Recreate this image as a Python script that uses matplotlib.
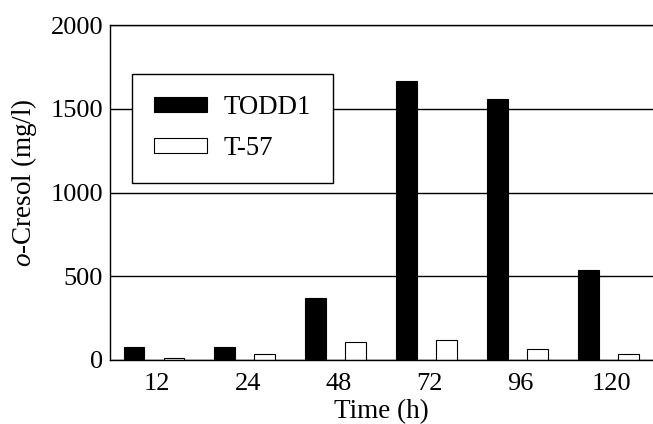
import numpy as np
import matplotlib.pyplot as plt

# o-Cresol concentration over time for two strains
times = ['12', '24', '48', '72', '96', '120']
todd1 = [75, 75, 368, 1665, 1560, 537]
t57 = [10, 34, 106, 118, 64, 34]

plt.rcParams['font.family'] = 'Liberation Serif'
plt.rcParams['mathtext.fontset'] = 'custom'
plt.rcParams['mathtext.it'] = 'Liberation Serif:italic'
plt.rcParams['mathtext.rm'] = 'Liberation Serif'

fig = plt.figure(figsize=(6.53, 4.24), dpi=100)
ax = fig.add_axes([110 / 653, 64 / 424, 543 / 653, 335 / 424])

x = np.arange(len(times))
w = 0.23
off = 0.22

ax.set_axisbelow(True)
ax.yaxis.grid(True, color='black', linewidth=1.0)
ax.bar(x - off, todd1, w, color='black', edgecolor='black', linewidth=0.8, label='TODD1')
ax.bar(x + off, t57, w, color='white', edgecolor='black', linewidth=0.8, label='T-57')

ax.set_xlim(-0.484, 5.49)
ax.set_ylim(0, 2000)
ax.set_yticks([0, 500, 1000, 1500, 2000])
ax.set_xticks(x + 0.03)
ax.set_xticklabels(times)
ax.tick_params(axis='both', length=0, labelsize=19)
ax.tick_params(axis='y', pad=5)
ax.tick_params(axis='x', pad=9)

ax.spines['right'].set_visible(False)
for s in ['left', 'bottom', 'top']:
    ax.spines[s].set_linewidth(1.0)

ax.set_xlabel('Time (h)', fontsize=19.5, labelpad=3.5)
ax.set_ylabel(r'$\it{o}$-Cresol (mg/l)', fontsize=19.5)
ax.yaxis.set_label_coords(-0.13, 0.53)

leg = ax.legend(loc='upper left', bbox_to_anchor=(0.041, 0.855), borderaxespad=0,
                fontsize=19.3, fancybox=False, framealpha=1, edgecolor='black',
                handlelength=2.0, handleheight=0.52, handletextpad=0.62,
                borderpad=0.8, labelspacing=0.6)
leg.get_frame().set_linewidth(1.0)

plt.savefig('out.png', dpi=100)
